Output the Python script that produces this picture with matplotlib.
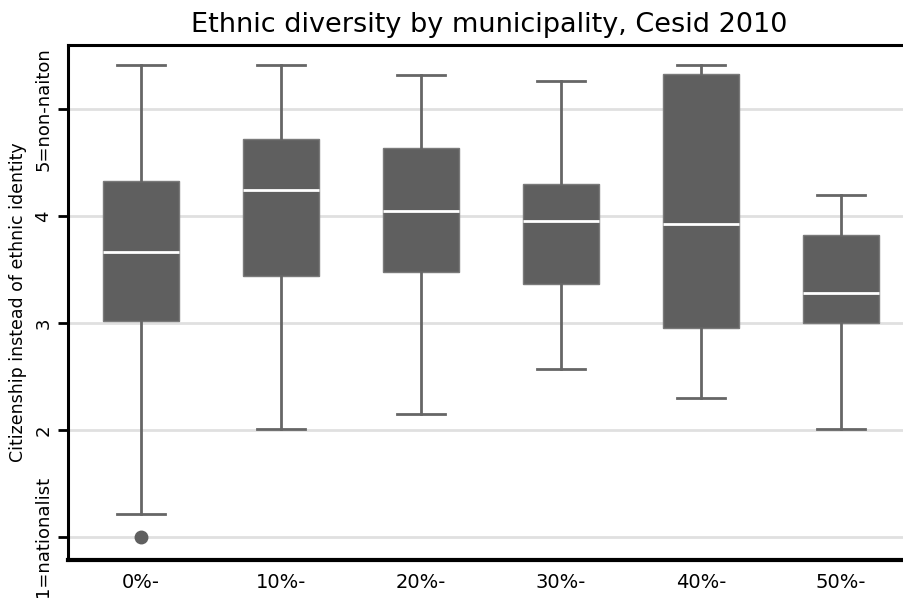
import matplotlib
matplotlib.use("Agg")
import matplotlib.pyplot as plt

# Municipality groups by share of minorities
groups = ["0%-", "10%-", "20%-", "30%-", "40%-", "50%-"]

# Box statistics per group (1 = nationalist ... 5 = non-nation)
whis_low = [1.21, 2.01, 2.15, 2.57, 2.30, 2.01]
q1 = [3.02, 3.44, 3.48, 3.36, 2.95, 3.00]
median = [3.66, 4.24, 4.05, 3.95, 3.93, 3.28]
q3 = [4.33, 4.72, 4.64, 4.30, 5.33, 3.82]
whis_high = [5.41, 5.41, 5.32, 5.26, 5.41, 4.20]
outliers = [[1.0], [], [], [], [], []]

ytick_vals = [1, 2, 3, 4, 5]
ytick_text = ["1=nationalist", "2", "3", "4", "5=non-naiton"]

plt.rcParams["font.family"] = ["DejaVu Sans"]

fig = plt.figure(figsize=(9.04, 5.98), dpi=100)
ax = fig.add_axes([0.0747, 0.0635, 0.933, 0.8615])

stats = []
for i, g in enumerate(groups):
    stats.append({"label": g, "whislo": whis_low[i], "q1": q1[i], "med": median[i],
                  "q3": q3[i], "whishi": whis_high[i], "fliers": outliers[i]})

box_grey = "#5f5f5f"
ax.bxp(stats, positions=range(len(groups)), widths=0.54, patch_artist=True,
       showfliers=True,
       boxprops=dict(facecolor=box_grey, edgecolor="#7a7a7a", linewidth=1),
       medianprops=dict(color="white", linewidth=2),
       whiskerprops=dict(color="#666666", linewidth=2),
       capprops=dict(color="#666666", linewidth=2),
       capwidths=0.34,
       flierprops=dict(marker="o", markerfacecolor=box_grey, markeredgecolor=box_grey,
                       markersize=9))

ax.set_xlim(-0.525, 5.5)
ax.set_ylim(0.782, 5.602)

ax.set_yticks(ytick_vals)
ax.set_yticklabels(ytick_text, rotation=90, va="center", fontsize=13)
ax.tick_params(axis="y", length=7, width=2, color="black", pad=4)
ax.tick_params(axis="x", length=0, pad=9, labelsize=14)

ax.yaxis.grid(True, color="#e0e0e0", linewidth=2)
ax.set_axisbelow(True)

for side in ["left", "top", "right"]:
    ax.spines[side].set_linewidth(2.2)
ax.spines["bottom"].set_linewidth(3)

ax.set_ylabel("Citizenship instead of ethnic identity", fontsize=12.5, labelpad=5)
ax.set_title("Ethnic diversity by municipality, Cesid 2010", fontsize=19.5, pad=9)

fig.savefig("out.png", dpi=100)
